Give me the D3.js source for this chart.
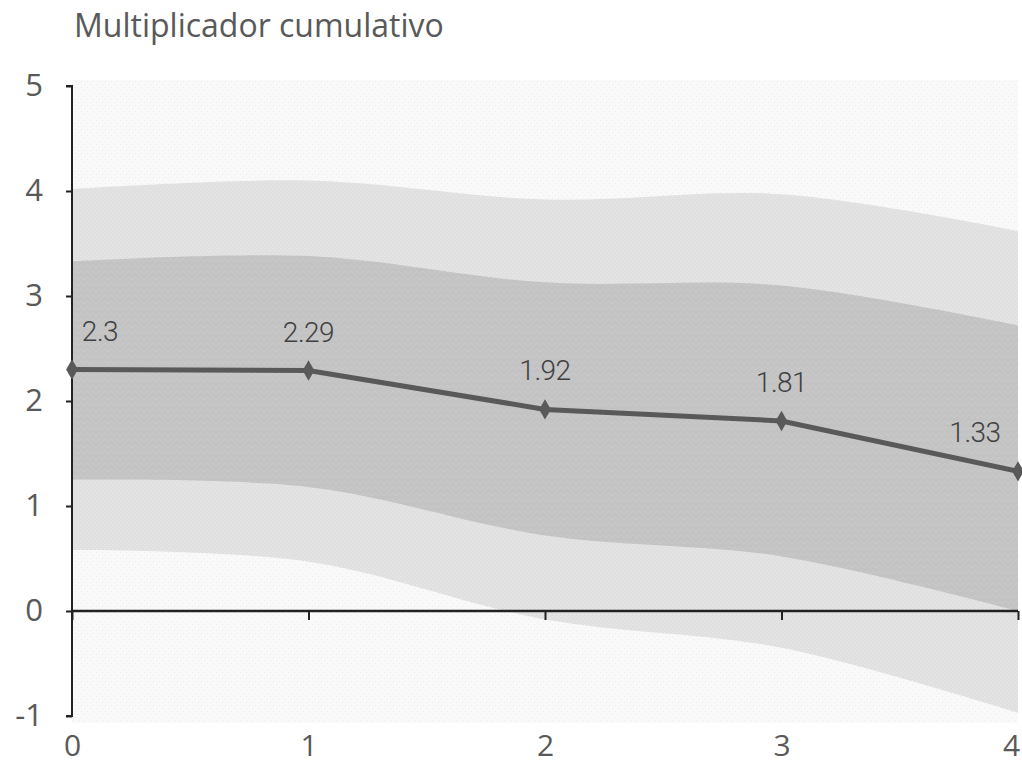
<!DOCTYPE html>
<html><head><meta charset="utf-8">
<script src="https://cdn.jsdelivr.net/npm/d3@7"></script>
<style>body{margin:0;background:#fff}svg{display:block}</style>
</head><body><svg id="c" width="1022" height="766"></svg>
<script>
const periods = [0, 1, 2, 3, 4];
const multiplier = [2.3, 2.29, 1.92, 1.81, 1.33];
const outerUpper = [4.02, 4.1, 3.92, 3.97, 3.62];
const innerUpper = [3.33, 3.38, 3.13, 3.1, 2.72];
const innerLower = [1.25, 1.18, 0.72, 0.52, 0.0];
const outerLower = [0.58, 0.47, -0.08, -0.35, -0.97];
const yTicks = [-1, 0, 1, 2, 3, 4, 5];
const title = "Multiplicador cumulativo";

const svg = d3.select("#c");
const x = d3.scaleLinear().domain([0, 4]).range([72, 1018]);
const y = d3.scaleLinear().domain([0, 5]).range([611, 86]);

const defs = svg.append("defs");
function dots(id, bg, dot, size) {
  const p = defs.append("pattern").attr("id", id).attr("patternUnits", "userSpaceOnUse")
    .attr("width", size).attr("height", size);
  p.append("rect").attr("width", size).attr("height", size).attr("fill", bg);
  p.append("rect").attr("x", 0).attr("y", 0).attr("width", 1).attr("height", 1).attr("fill", dot);
  p.append("rect").attr("x", size/2).attr("y", size/2).attr("width", 1).attr("height", 1).attr("fill", dot);
}
dots("bgPat", "#f9f9f9", "#ececec", 6);
dots("outerPat", "#e0e0e0", "#ebebeb", 4);
const zz = defs.append("pattern").attr("id", "innerPat").attr("patternUnits", "userSpaceOnUse")
  .attr("width", 6).attr("height", 6);
zz.append("rect").attr("width", 6).attr("height", 6).attr("fill", "#c3c3c3");
zz.append("path").attr("d", "M0,4 L3,1 L6,4").attr("fill", "none").attr("stroke", "#cacaca").attr("stroke-width", 1);

// plot background
svg.append("rect").attr("x", x(0)).attr("y", 80).attr("width", x(4) - x(0)).attr("height", 643)
  .attr("fill", "url(#bgPat)");

const idx = d3.range(periods.length);
const band = (lo, hi) => d3.area().x(i => x(periods[i])).y0(i => y(lo[i])).y1(i => y(hi[i]))
  .curve(d3.curveCatmullRom.alpha(0.5))(idx);
svg.append("path").attr("d", band(outerLower, outerUpper)).attr("fill", "url(#outerPat)");
svg.append("path").attr("d", band(innerLower, innerUpper)).attr("fill", "url(#innerPat)");

// axes
const yAxis = d3.axisLeft(y).tickValues(yTicks).tickSize(6).tickFormat(d => String(d));
const gy = svg.append("g").attr("transform", `translate(${x(0)},0)`).call(yAxis);
gy.select(".domain").attr("d", `M-6,${y(5)}H0V${y(-1)}H-6`).attr("stroke", "#222").attr("stroke-width", 2);
gy.selectAll(".tick line").attr("stroke", "#222").attr("stroke-width", 2);
gy.selectAll(".tick text").attr("x", -29).attr("fill", "#595959")
  .style("font-family", "'Open Sans', sans-serif").style("font-size", "31px");

const xAxis = d3.axisBottom(x).tickValues(periods).tickSize(9).tickFormat(d => String(d));
const gx = svg.append("g").attr("transform", `translate(0,${y(0)})`).call(xAxis);
gx.select(".domain").attr("d", `M${x(0)},0H${x(4)}`).attr("stroke", "#222").attr("stroke-width", 2.5);
gx.selectAll(".tick line").attr("stroke", "#222").attr("stroke-width", 2);
gx.selectAll(".tick text").attr("y", 0).attr("dy", null)
  .attr("transform", d => `translate(${d === 4 ? -7 : 0},${y(-1) + 40 - y(0)})`).attr("fill", "#595959")
  .style("font-family", "'Open Sans', sans-serif").style("font-size", "30px");

// main line
svg.append("path").datum(idx)
  .attr("d", d3.line().x(i => x(periods[i])).y(i => y(multiplier[i])))
  .attr("fill", "none").attr("stroke", "#595959").attr("stroke-width", 5);
svg.selectAll(".mk").data(idx).enter().append("path")
  .attr("transform", i => `translate(${x(periods[i])},${y(multiplier[i])})`)
  .attr("d", d3.symbol().type(d3.symbolDiamond).size(120)).attr("fill", "#595959");

// labels
svg.selectAll(".lb").data(idx).enter().append("text")
  .attr("x", i => Math.min(Math.max(x(periods[i]), x(0) + 28), x(4) - 43))
  .attr("y", i => y(multiplier[i]) - 29)
  .attr("text-anchor", "middle").attr("fill", "#404040")
  .style("font-family", "Roboto, sans-serif").style("font-weight", 300).style("font-size", "28px")
  .style("letter-spacing", "-0.5px")
  .text(i => multiplier[i]);

svg.append("text").attr("x", 74).attr("y", 37).text(title).attr("fill", "#595959")
  .style("font-family", "'Open Sans', sans-serif").style("font-size", "32px");
</script></body></html>
